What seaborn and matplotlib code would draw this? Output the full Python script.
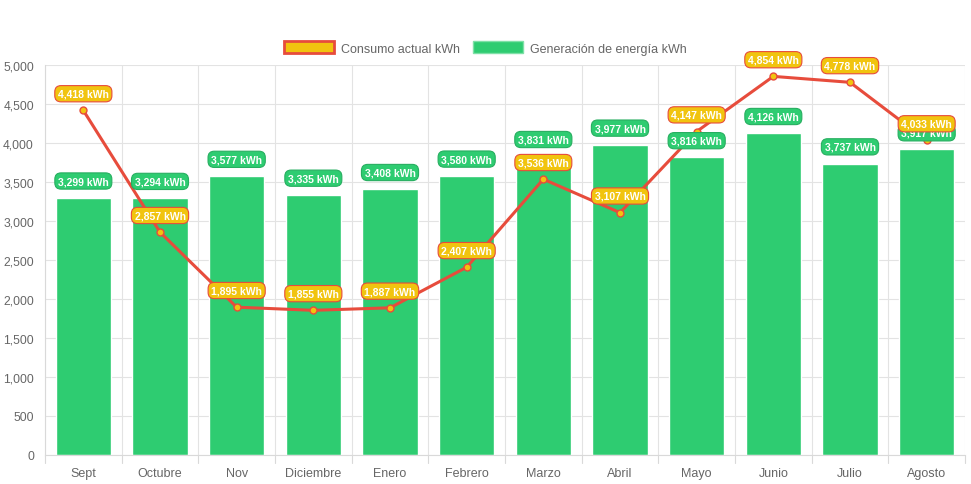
import numpy as np
import pandas as pd
import matplotlib
matplotlib.use('Agg')
import matplotlib.pyplot as plt
import seaborn as sns
from matplotlib.patches import Patch
from matplotlib.ticker import FuncFormatter, MultipleLocator

sns.set_style('white')
plt.rcParams['font.family'] = ['Liberation Sans', 'DejaVu Sans']

# datos
meses = ['Sept', 'Octubre', 'Nov', 'Diciembre', 'Enero', 'Febrero', 'Marzo',
         'Abril', 'Mayo', 'Junio', 'Julio', 'Agosto']
consumo = [4418, 2857, 1895, 1855, 1887, 2407, 3536, 3107, 4147, 4854, 4778, 4033]
generacion = [3299, 3294, 3577, 3335, 3408, 3580, 3831, 3977, 3816, 4126, 3737, 3917]

verde = '#2ecc71'
rojo = '#e74c3c'
amarillo = '#f1c40f'
gris = '#666666'

df = pd.DataFrame({'mes': meses, 'consumo': consumo, 'generacion': generacion})

fig = plt.figure(figsize=(9.71, 4.85), dpi=100)
ax = fig.add_axes([45 / 971, 29 / 485, 920 / 971, 390 / 485])

sns.barplot(data=df, x='mes', y='generacion', color=verde, saturation=1,
            width=0.72, ax=ax, zorder=2)
sns.lineplot(data=df, x='mes', y='consumo', color=rojo, linewidth=2.2, ax=ax,
             marker='o', markersize=5, markerfacecolor=amarillo,
             markeredgecolor=rojo, markeredgewidth=1, zorder=3, sort=False)

ax.set_xlim(-0.5, len(meses) - 0.5)
ax.set_ylim(0, 5000)
ax.yaxis.set_major_locator(MultipleLocator(500))
ax.yaxis.set_major_formatter(FuncFormatter(lambda v, p: f'{int(v):,}'))
ax.set_xlabel('')
ax.set_ylabel('')

# rejilla
ax.set_axisbelow(True)
ax.grid(axis='y', color='#e3e3e3', linewidth=0.8)
for b in np.arange(-0.5, len(meses), 1):
    ax.axvline(b, color='#e3e3e3', linewidth=0.8, zorder=0)
for s in ['top', 'right']:
    ax.spines[s].set_visible(False)
for s in ['left', 'bottom']:
    ax.spines[s].set_color('#d9d9d9')
ax.tick_params(axis='both', colors='#d9d9d9', labelcolor=gris, labelsize=9,
               length=6)
ax.tick_params(axis='x', length=0, pad=9)
ax.tick_params(axis='y', pad=2, labelsize=8.7)
for b in np.arange(-0.5, len(meses), 1):
    ax.plot([b, b], [0, -0.021], transform=ax.get_xaxis_transform(),
            color='#d9d9d9', linewidth=0.8, clip_on=False)

# etiquetas
for i, v in enumerate(generacion):
    ax.annotate(f'{v:,} kWh', (i, v), xytext=(0, 12), textcoords='offset points',
                ha='center', va='center', fontsize=7.5, fontweight='bold',
                color='white', zorder=5,
                bbox=dict(boxstyle='round,pad=0.3,rounding_size=0.6',
                          fc=verde, ec='#27ae60', lw=0.8))
for i, v in enumerate(consumo):
    ax.annotate(f'{v:,} kWh', (i, v), xytext=(0, 12), textcoords='offset points',
                ha='center', va='center', fontsize=7.5, fontweight='bold',
                color='white', zorder=6,
                bbox=dict(boxstyle='round,pad=0.3,rounding_size=0.6',
                          fc=amarillo, ec=rojo, lw=0.8))

# leyenda
handles = [Patch(facecolor=amarillo, edgecolor=rojo, linewidth=2),
           Patch(facecolor=verde, edgecolor='#7fe0a7', linewidth=1)]
fig.legend(handles, ['Consumo actual kWh', 'Generación de energía kWh'],
           loc='center', bbox_to_anchor=(0.5, 1 - 49 / 485), ncol=2,
           frameon=False, fontsize=9, labelcolor=gris, handlelength=4.0,
           handleheight=1.1, columnspacing=1.0, handletextpad=0.6)

fig.savefig('out.png', dpi=100)
